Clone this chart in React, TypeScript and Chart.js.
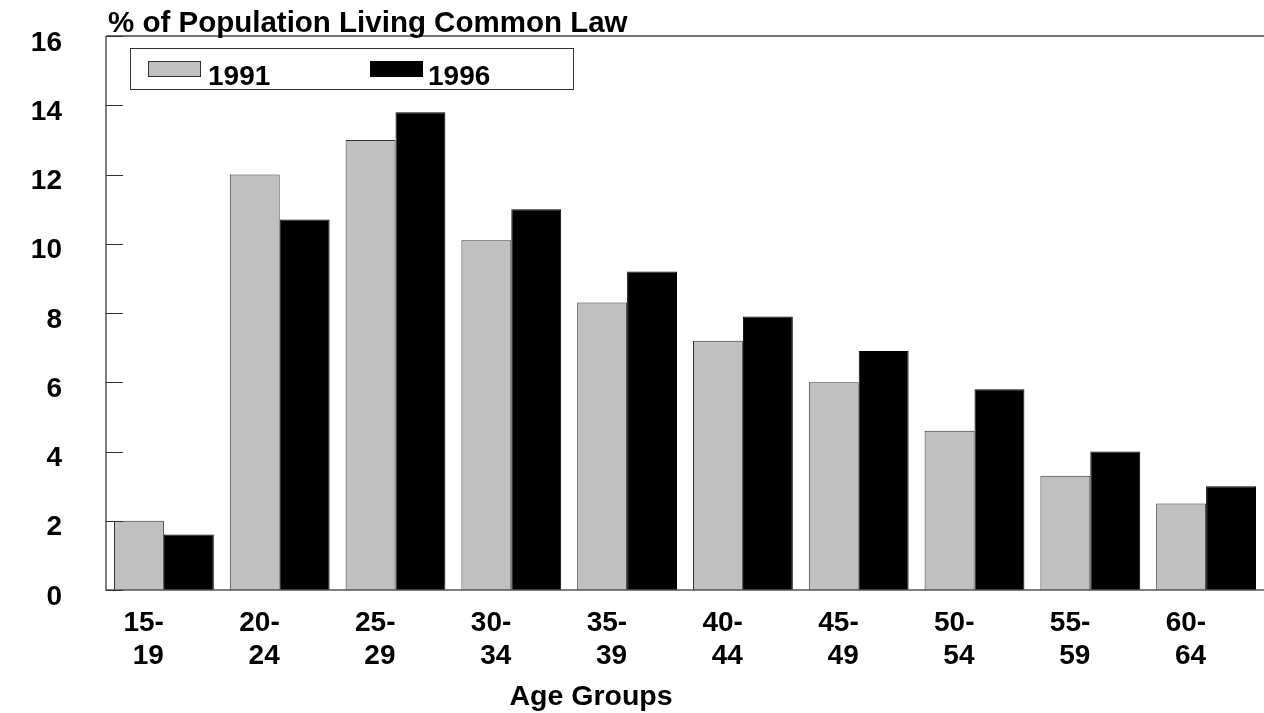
import React, { useEffect, useRef } from "react";
import { Chart, registerables } from "chart.js";

Chart.register(...registerables);

const categories: string[][] = [
  ["15-", "19"], ["20-", "24"], ["25-", "29"], ["30-", "34"], ["35-", "39"],
  ["40-", "44"], ["45-", "49"], ["50-", "54"], ["55-", "59"], ["60-", "64"],
];
const series1991: number[] = [2.0, 12.0, 13.0, 10.1, 8.3, 7.2, 6.0, 4.6, 3.3, 2.5];
const series1996: number[] = [1.6, 10.7, 13.8, 11.0, 9.2, 7.9, 6.9, 5.8, 4.0, 3.0];
const seriesLabels = ["1991", "1996"];
const titleText = "% of Population Living Common Law";
const xTitle = "Age Groups";
const yMin = 0;
const yMax = 16;
const yStep = 2;

const FONT = "'Liberation Sans', Arial, sans-serif";

const decorPlugin = {
  id: "decor",
  afterDraw(chart: any) {
    const ctx = chart.ctx as CanvasRenderingContext2D;
    const { left, top, bottom } = chart.chartArea;
    const y = chart.scales.y;
    ctx.save();
    // top frame
    ctx.strokeStyle = "#444";
    ctx.lineWidth = 1.5;
    ctx.beginPath();
    ctx.moveTo(left, top);
    ctx.lineTo(chart.width, top);
    ctx.stroke();
    // axes
    ctx.strokeStyle = "#555";
    ctx.beginPath();
    ctx.moveTo(left, top);
    ctx.lineTo(left, bottom);
    ctx.lineTo(chart.width, bottom);
    ctx.stroke();
    // inward ticks
    ctx.lineWidth = 1;
    ctx.strokeStyle = "#333";
    for (const t of y.ticks) {
      const py = Math.round(y.getPixelForValue(t.value)) + 0.5;
      ctx.beginPath();
      ctx.moveTo(left, py);
      ctx.lineTo(left + 17, py);
      ctx.stroke();
    }
    // title
    ctx.fillStyle = "#000";
    ctx.font = `bold 29.5px ${FONT}`;
    ctx.textAlign = "left";
    ctx.textBaseline = "alphabetic";
    ctx.fillText(titleText, 108, 32);
    // x title
    ctx.font = `bold 28.5px ${FONT}`;
    ctx.textAlign = "center";
    ctx.fillText(xTitle, 591, 705);
    // legend box
    ctx.fillStyle = "#fff";
    ctx.fillRect(130, 48, 443, 41);
    ctx.strokeStyle = "#333";
    ctx.lineWidth = 1;
    ctx.strokeRect(130.5, 48.5, 443, 41);
    const ds = chart.data.datasets;
    const items = [
      { sx: 148, sw: 52, tx: 208 },
      { sx: 370, sw: 52, tx: 428 },
    ];
    items.forEach((it, i) => {
      const d = ds[i];
      ctx.fillStyle = d.backgroundColor;
      ctx.fillRect(it.sx, 61, it.sw, 15);
      ctx.strokeStyle = d.borderColor;
      ctx.strokeRect(it.sx + 0.5, 61.5, it.sw, 15);
      ctx.fillStyle = "#000";
      ctx.textAlign = "left";
      ctx.font = `bold 28px ${FONT}`;
      ctx.fillText(seriesLabels[i], it.tx, 85);
    });
    ctx.restore();
  },
};

export default function App() {
  const ref = useRef<HTMLCanvasElement>(null);
  useEffect(() => {
    document.body.style.margin = "0";
    const chart = new Chart(ref.current!, {
      type: "bar",
      data: {
        labels: categories,
        datasets: [
          {
            label: seriesLabels[0],
            data: series1991,
            backgroundColor: "#c0c0c0",
            borderColor: "#333333",
            borderWidth: 1,
            categoryPercentage: 0.862,
            barPercentage: 1,
          },
          {
            label: seriesLabels[1],
            data: series1996,
            backgroundColor: "#000000",
            borderColor: "#000000",
            borderWidth: 1,
            categoryPercentage: 0.862,
            barPercentage: 1,
          },
        ],
      },
      options: {
        animation: false,
        responsive: false,
        devicePixelRatio: 1,
        layout: { padding: { top: 36, left: 0, right: 0, bottom: 0 } },
        plugins: { legend: { display: false }, title: { display: false }, tooltip: { enabled: false } },
        scales: {
          x: {
            offset: true,
            grid: { display: false, drawTicks: false },
            border: { display: false },
            ticks: {
              align: "end",
              autoSkip: false,
              maxRotation: 0,
              minRotation: 0,
              padding: 17,
              color: "#000",
              font: { family: FONT, size: 28, weight: "bold", lineHeight: 1.18 },
            },
            afterFit: (s: any) => {
              s.height = 123;
              s.paddingLeft = 0;
              s.paddingRight = 0;
            },
          },
          y: {
            min: yMin,
            max: yMax,
            grid: { display: false, drawTicks: false },
            border: { display: false },
            ticks: {
              stepSize: yStep,
              padding: 44,
              labelOffset: 7,
              color: "#000",
              font: { family: FONT, size: 28, weight: "bold" },
            },
            afterFit: (s: any) => {
              s.width = 106;
              s.paddingTop = 0;
              s.paddingBottom = 0;
            },
          },
        },
      },
      plugins: [decorPlugin],
    });
    return () => chart.destroy();
  }, []);
  return (
    <div style={{ width: 1264, height: 713 }}>
      <canvas ref={ref} width={1264} height={713} style={{ display: "block" }} />
    </div>
  );
}
